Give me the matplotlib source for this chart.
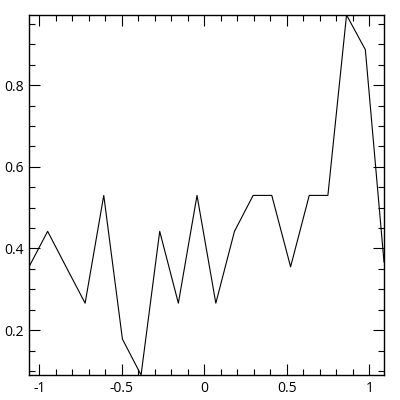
import matplotlib
matplotlib.use('Agg')
import matplotlib.pyplot as plt
from matplotlib.ticker import MultipleLocator, FormatStrFormatter

plt.rcParams['font.family'] = ['Open Sans', 'DejaVu Sans']
plt.rcParams['axes.unicode_minus'] = False

# values
x = [-1.062, -0.949, -0.836, -0.722, -0.609, -0.496, -0.383, -0.270, -0.157, -0.044,
     0.070, 0.183, 0.296, 0.409, 0.523, 0.636, 0.749, 0.862, 0.976, 1.089]
y = [0.355, 0.442, 0.354, 0.266, 0.530, 0.178, 0.090, 0.442, 0.266, 0.530,
     0.266, 0.442, 0.530, 0.530, 0.355, 0.530, 0.530, 0.972, 0.887, 0.367]

fig = plt.figure(figsize=(4, 4), dpi=100)
ax = fig.add_axes([0.0725, 0.0625, 0.8875, 0.9])
ax.plot(x, y, color='black', lw=0.8)

ax.set_xlim(min(x), max(x))
ax.set_ylim(min(y), max(y))

ax.xaxis.set_major_locator(MultipleLocator(0.5))
ax.xaxis.set_minor_locator(MultipleLocator(0.1))
ax.yaxis.set_major_locator(MultipleLocator(0.2))
ax.yaxis.set_minor_locator(MultipleLocator(0.05))
ax.xaxis.set_major_formatter(FormatStrFormatter('%g'))
ax.yaxis.set_major_formatter(FormatStrFormatter('%g'))

ax.tick_params(which='both', direction='in', top=True, right=True, width=0.8, labelsize=10)
ax.tick_params(which='major', length=8, pad=4)
ax.tick_params(which='minor', length=4)
for s in ax.spines.values():
    s.set_linewidth(1)

fig.savefig('out.png', dpi=100)
